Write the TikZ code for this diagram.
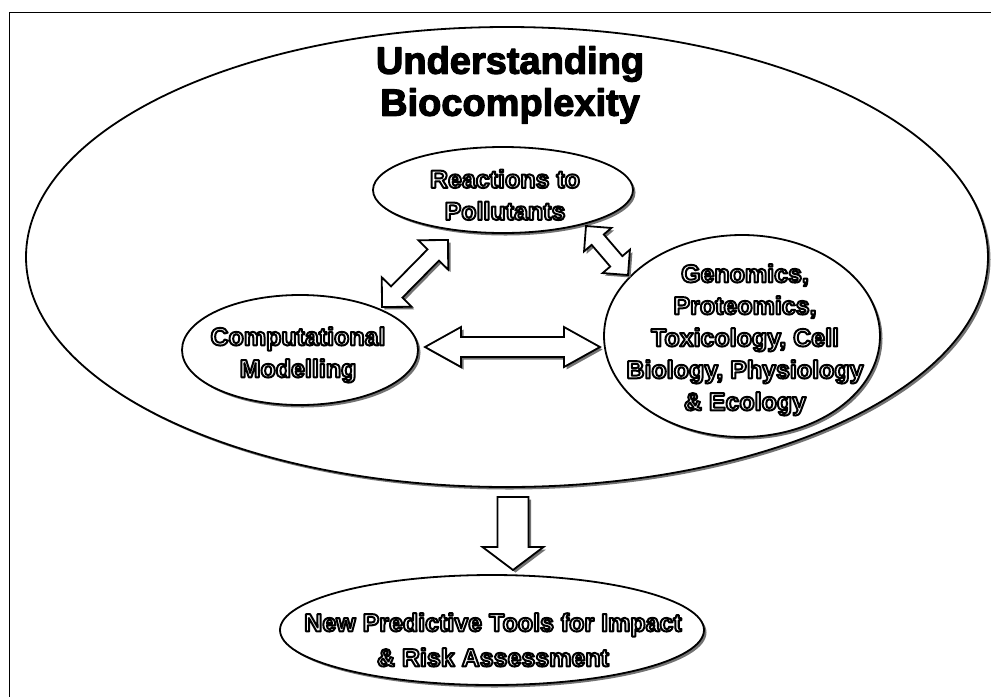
\documentclass[tikz,border=0pt]{standalone}
\usepackage{fontspec}
\setmainfont{Liberation Sans}
\usetikzlibrary{shapes.geometric,calc,shadows}
\newcommand\olt[1]{{\color{white}\special{pdf:literal direct 0 G 2 Tr 2 w 1 j}#1\special{pdf:literal direct 0 Tr}}}
\newcommand\heavy[1]{\special{pdf:literal direct 0 G 2 Tr 1.2 w 1 j}#1\special{pdf:literal direct 0 Tr}}
\newcommand\dblarrow[5]{%
  \coordinate (#1-a) at ($(#1)!#5!(#2)$);
  \coordinate (#1-b) at ($(#2)!#5!(#1)$);
  \draw[blk] (#1) -- ($(#1-a)!#4!90:(#2)$) -- ($(#1-a)!#3!90:(#2)$)
    -- ($(#1-b)!#3!-90:(#1)$) -- ($(#1-b)!#4!-90:(#1)$) -- (#2)
    -- ($(#1-b)!#4!90:(#1)$) -- ($(#1-b)!#3!90:(#1)$)
    -- ($(#1-a)!#3!-90:(#2)$) -- ($(#1-a)!#4!-90:(#2)$) -- cycle;}
\newcommand\sglarrow[5]{%
  \coordinate (#2-b) at ($(#2)!#5!(#1)$);
  \draw[blk] ($(#1)!#3!90:(#2)$) -- ($(#2-b)!#3!-90:(#1)$) -- ($(#2-b)!#4!-90:(#1)$)
    -- (#2) -- ($(#2-b)!#4!90:(#1)$) -- ($(#2-b)!#3!90:(#1)$)
    -- ($(#1)!#3!-90:(#2)$) -- cycle;}
\begin{document}
\begin{tikzpicture}[x=1pt,y=-1pt,
  shd/.style={drop shadow={shadow xshift=2.5pt,shadow yshift=-2.5pt,fill=black!55,opacity=1}},
  ell/.style={ellipse, draw, line width=1.8pt, fill=white, inner sep=0pt, shd},
  lbl/.style={align=center, inner sep=0pt, anchor=north, font=\fontsize{25}{32}\selectfont\bfseries},
  blk/.style={draw, line width=1.8pt, fill=white, line join=miter, shd},
  frame/.style={line width=0.8pt}]
\useasboundingbox (0,0) rectangle (991,697);
\coordinate (ftl) at (9,12);
\coordinate (ftr) at (991,12);
\coordinate (fbl) at (9,697);
\draw[frame] (ftr) -- (ftl) -- (fbl);
% outer ellipse and title
\node[ell, minimum width=962pt, minimum height=460pt] (outer) at (507,257) {};
\node[align=center, inner sep=0pt, anchor=north, font=\fontsize{38}{42}\selectfont\bfseries] (title) at (510,46) {\heavy{Understanding}\\\heavy{Biocomplexity}};
% inner ellipses
\node[ell, minimum width=260pt, minimum height=86pt] (react) at (503,190) {};
\node[ell, minimum width=236pt, minimum height=110pt] (comp) at (300,350) {};
\node[ell, minimum width=276pt, minimum height=202pt] (gen) at (742,336) {};
\node[ell, minimum width=424pt, minimum height=110pt] (tools) at (492,630) {};
% labels
\node[lbl] (reactt) at (505,169.5) {\olt{Reactions to}\\\olt{Pollutants}};
\node[lbl] (compt) at (298,327) {\olt{Computational}\\\olt{Modelling}};
\node[lbl] (gent) at (745,264) {\olt{Genomics,}\\\olt{Proteomics,}\\\olt{Toxicology, Cell}\\\olt{Biology, Physiology}\\\olt{\& Ecology}};
\node[lbl, font=\fontsize{25}{35}\selectfont\bfseries] (toolst) at (493,613) {\olt{New Predictive Tools for Impact}\\\olt{\& Risk Assessment}};
% block arrows
\coordinate (hL) at (425,347);
\coordinate (hR) at (600,347);
\coordinate (dL1) at (382,307);
\coordinate (dL2) at (448,240);
\coordinate (dR1) at (586,226);
\coordinate (dR2) at (628,275);
\coordinate (vT) at (513,497);
\coordinate (vB) at (513,570);
\dblarrow{hL}{hR}{10pt}{20pt}{36pt}
\dblarrow{dL1}{dL2}{8pt}{21pt}{21pt}
\dblarrow{dR1}{dR2}{8pt}{18pt}{18pt}
\sglarrow{vT}{vB}{15.5pt}{30.5pt}{23pt}
\end{tikzpicture}
\end{document}
